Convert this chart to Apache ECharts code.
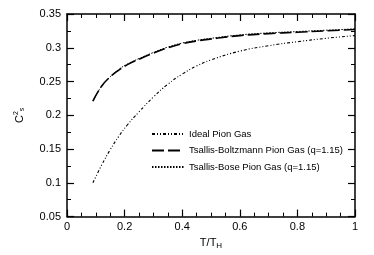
<!DOCTYPE html>
<html>
<head>
<meta charset="utf-8">
<script src="https://cdn.jsdelivr.net/npm/echarts@6/dist/echarts.min.js"></script>
<style>html,body{margin:0;padding:0;background:#fff}#c{width:374px;height:255px}</style>
</head>
<body>
<div id="c"></div>
<script>
var temps = [0.09, 0.12, 0.15, 0.18, 0.21, 0.25, 0.30, 0.35, 0.40, 0.45, 0.50, 0.60, 0.70, 0.80, 0.90, 1.00];
var idealPion = [0.100, 0.126, 0.149, 0.169, 0.186, 0.205, 0.227, 0.246, 0.261, 0.273, 0.282, 0.295, 0.303, 0.309, 0.314, 0.318];
var tsallisBoltzmann = [0.221, 0.243, 0.257, 0.267, 0.275, 0.283, 0.292, 0.300, 0.306, 0.310, 0.313, 0.318, 0.321, 0.323, 0.325, 0.327];
var tsallisBose = [0.221, 0.243, 0.257, 0.268, 0.276, 0.284, 0.293, 0.301, 0.307, 0.311, 0.314, 0.319, 0.322, 0.324, 0.326, 0.328];
var seriesNames = ['Ideal Pion Gas', 'Tsallis-Boltzmann Pion Gas (q=1.15)', 'Tsallis-Bose Pion Gas (q=1.15)'];
var xTicks = [0, 0.2, 0.4, 0.6, 0.8, 1];
var yTicks = [0.05, 0.1, 0.15, 0.2, 0.25, 0.3, 0.35];

function pairs(xs, ys) { return xs.map(function (x, i) { return [x, ys[i]]; }); }
var font = 'Liberation Sans, Arial, sans-serif';
var axisLine = { show: true, onZero: false, lineStyle: { color: '#000', width: 1.5 } };
var axisTick = { show: true, inside: true, length: 7, lineStyle: { color: '#000', width: 1.2 } };
function minor(n) { return { show: true, splitNumber: n, length: 4, lineStyle: { color: '#000', width: 1 } }; }

var lineStyles = [
  { color: '#000', width: 1.1, type: [3, 2, 1, 2, 1, 2] },
  { color: '#000', width: 1.6, type: [12, 4] },
  { color: '#000', width: 1, type: [1.5, 1.5] }
];
var chart = echarts.init(document.getElementById('c'), null, { renderer: 'canvas' });
chart.setOption({
  animation: false,
  backgroundColor: '#fff',
  grid: { left: 67, right: 19, top: 14, bottom: 38 },
  legend: {
    show: true, orient: 'vertical', left: 151, top: 129, padding: 0,
    itemWidth: 32, itemHeight: 8, itemGap: 6.5,
    itemStyle: { opacity: 0 },
    textStyle: { fontFamily: font, fontSize: 9.5, color: '#000' },
    data: seriesNames
  },
  xAxis: [
    {
      type: 'value', min: 0, max: 1, interval: 0.2, position: 'bottom',
      axisLine: axisLine, axisTick: axisTick, minorTick: minor(4), splitLine: { show: false },
      axisLabel: { fontFamily: font, fontSize: 11, color: '#000', margin: 5,
        formatter: function (v) { return String(+v.toFixed(2)); } },
      name: '{a|T/T}{b|H}', nameLocation: 'middle', nameGap: 15,
      nameTextStyle: { rich: { a: { fontFamily: font, fontSize: 11, color: '#000' }, b: { fontFamily: font, fontSize: 8, color: '#000', padding: [6, 0, 0, 0] } } }
    },
    {
      type: 'value', min: 0, max: 1, interval: 0.2, position: 'top',
      axisLine: axisLine, axisTick: axisTick, minorTick: minor(4), splitLine: { show: false },
      axisLabel: { show: false }
    }
  ],
  yAxis: [
    {
      type: 'value', min: 0.05, max: 0.35, interval: 0.05, position: 'left',
      axisLine: axisLine, axisTick: axisTick, minorTick: minor(2), splitLine: { show: false },
      axisLabel: { fontFamily: font, fontSize: 11, color: '#000', margin: 6,
        formatter: function (v) { return String(+v.toFixed(2)); } },
      name: '{a|C}{c|2}{s|s}', nameLocation: 'middle', nameGap: 40, nameRotate: 90,
      nameTextStyle: { rich: {
        a: { fontFamily: font, fontSize: 11, color: '#000' },
        c: { fontFamily: font, fontSize: 7, color: '#000', padding: [0, 0, 7, 0] },
        s: { fontFamily: font, fontSize: 7, color: '#000', padding: [5, 0, 0, 0] } } }
    },
    {
      type: 'value', min: 0.05, max: 0.35, interval: 0.05, position: 'right',
      axisLine: axisLine, axisTick: axisTick, minorTick: minor(2), splitLine: { show: false },
      axisLabel: { show: false }
    }
  ],
  series: [
    { name: seriesNames[0], type: 'line', data: pairs(temps, idealPion), smooth: true, symbol: 'none',
      lineStyle: lineStyles[0], itemStyle: { color: '#000' } },
    { name: seriesNames[1], type: 'line', data: pairs(temps, tsallisBoltzmann), smooth: true, symbol: 'none',
      lineStyle: lineStyles[1], itemStyle: { color: '#000' } },
    { name: seriesNames[2], type: 'line', data: pairs(temps, tsallisBose), smooth: true, symbol: 'none',
      lineStyle: lineStyles[2], itemStyle: { color: '#000' } }
  ]
});
</script>
</body>
</html>
